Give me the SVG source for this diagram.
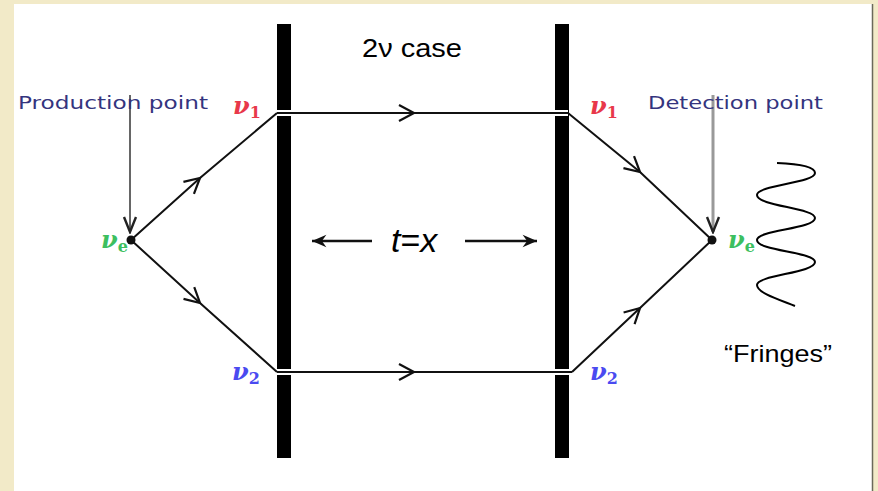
<svg xmlns="http://www.w3.org/2000/svg" width="878" height="491" viewBox="0 0 878 491">
<style>
.lbl{font-family:"DejaVu Sans",Verdana,sans-serif;font-size:17.5px;fill:#34347e}
.nu{font-family:"DejaVu Serif","Liberation Serif",serif;font-style:italic;font-weight:bold;font-size:24px}
.sub{font-family:"DejaVu Serif","Liberation Serif",serif;font-size:16px;font-style:normal;font-weight:bold}
.txt{font-family:"Liberation Sans",Arial,sans-serif;fill:#000}
.path{fill:none;stroke:#111;stroke-width:2}
.casing{fill:none;stroke:#fff;stroke-width:6}
.bar{fill:#000}
</style>
<defs>
<marker id="chev" viewBox="0 0 24 24" refX="17" refY="12" markerWidth="24" markerHeight="24" markerUnits="userSpaceOnUse" orient="auto">
<path d="M2,4 L17,12 L2,20" fill="none" stroke="#111" stroke-width="2.2"/>
</marker>
<marker id="vhead" viewBox="0 0 20 20" refX="10" refY="18" markerWidth="20" markerHeight="20" markerUnits="userSpaceOnUse" orient="0">
<path d="M4,3 L10,18 L16,3" fill="none" stroke="#222" stroke-width="2.4"/>
</marker>
<marker id="ah" viewBox="0 0 20 20" refX="18" refY="10" markerWidth="18" markerHeight="18" markerUnits="userSpaceOnUse" orient="auto-start-reverse">
<path d="M2,3 L18,10 L2,17 L7,10 Z" fill="#111"/>
</marker>
</defs>
<rect x="0" y="0" width="878" height="491" fill="#f2eac8"/>
<rect x="14" y="4" width="858" height="487" fill="#fff"/>
<line x1="872.5" y1="4" x2="872.5" y2="491" stroke="#6a6a5a" stroke-width="1.5"/>

<g id="barriers">
<rect class="bar" x="277" y="24" width="14" height="434"/>
<rect class="bar" x="555" y="24" width="14" height="434"/>
</g>

<g id="connectors">
<path class="casing" d="M277,113 L568,113"/>
<path class="casing" d="M277,372 L572,372"/>
<polyline class="path" points="131,240 200,178 277,113" marker-mid="url(#chev)"/>
<polyline class="path" points="277,113 414,113 568,113" marker-mid="url(#chev)"/>
<polyline class="path" points="568,113 640,172 712,240" marker-mid="url(#chev)"/>
<polyline class="path" points="131,240 200,303 277,372" marker-mid="url(#chev)"/>
<polyline class="path" points="277,372 414,372 572,372" marker-mid="url(#chev)"/>
<polyline class="path" points="572,372 640,308 712,240" marker-mid="url(#chev)"/>
<line x1="130" y1="95" x2="130" y2="232" stroke="#666" stroke-width="2" marker-end="url(#vhead)"/>
<line x1="713" y1="95" x2="713" y2="232" stroke="#999" stroke-width="3" marker-end="url(#vhead)"/>
<line x1="372" y1="241" x2="312" y2="241" stroke="#111" stroke-width="2.4" marker-end="url(#ah)"/>
<line x1="465" y1="241" x2="537" y2="241" stroke="#111" stroke-width="2.4" marker-end="url(#ah)"/>
</g>

<g id="production">
<circle cx="131" cy="240" r="4.5" fill="#111"/>
<text class="lbl" x="18" y="109" textLength="190" lengthAdjust="spacingAndGlyphs">Production point</text>
<text class="nu" x="101" y="248" fill="#3cbf60">ν<tspan class="sub" dy="4">e</tspan></text>
</g>

<g id="detection">
<circle cx="712" cy="240" r="4.5" fill="#111"/>
<text class="lbl" x="648" y="109" textLength="175" lengthAdjust="spacingAndGlyphs">Detection point</text>
<text class="nu" x="728" y="248" fill="#3cbf60">ν<tspan class="sub" dy="4">e</tspan></text>
</g>

<g id="nu1-left"><text class="nu" x="233" y="114" fill="#e8384a">ν<tspan class="sub" dy="4">1</tspan></text></g>
<g id="nu1-right"><text class="nu" x="590" y="114" fill="#e8384a">ν<tspan class="sub" dy="4">1</tspan></text></g>
<g id="nu2-left"><text class="nu" x="232" y="380" fill="#4a4af0">ν<tspan class="sub" dy="4">2</tspan></text></g>
<g id="nu2-right"><text class="nu" x="590" y="380" fill="#4a4af0">ν<tspan class="sub" dy="4">2</tspan></text></g>

<g id="title"><text class="txt" x="362" y="57" font-size="25" textLength="100" lengthAdjust="spacingAndGlyphs">2ν case</text></g>
<g id="txequal"><text class="txt" x="391" y="252" font-size="34" font-style="italic">t<tspan font-style="normal">=</tspan>x</text></g>

<g id="fringes">
<path d="M777,163 C800,164 815,167 815,173 C815,183 757,185 757,195 C757,206 815,208 815,218 C815,229 757,230 757,240 C757,251 815,252 815,262 C815,273 757,275 757,285 C757,293 780,300 795,306" fill="none" stroke="#000" stroke-width="2"/>
<text class="txt" x="724" y="362" font-size="24" textLength="108" lengthAdjust="spacingAndGlyphs">“Fringes”</text>
</g>
</svg>
